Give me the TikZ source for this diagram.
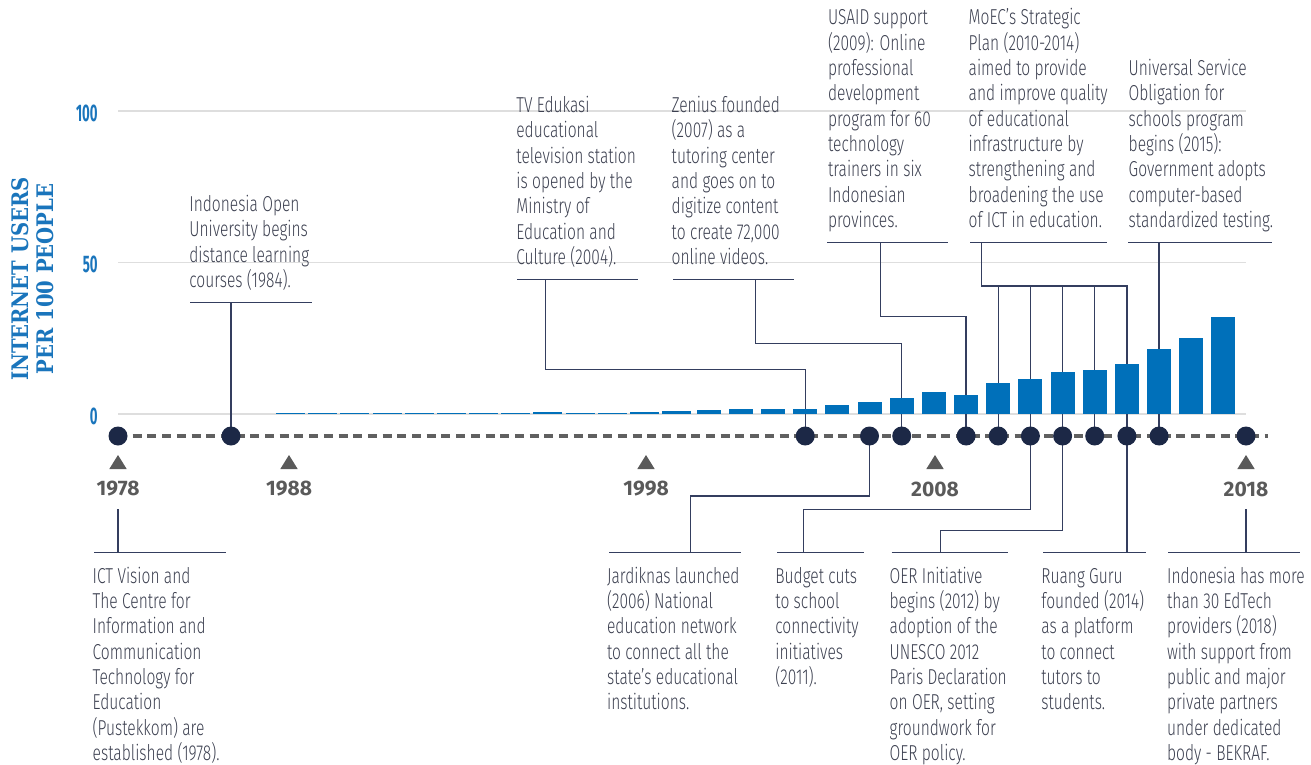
\documentclass[tikz,border=0pt]{standalone}
\usepackage{fontspec}
\setmainfont{Fira Sans Light}[FakeStretch=0.72]
\newfontfamily\yearfont{Fira Sans}
\newfontfamily\tickfont{Fira Sans}[FakeStretch=0.55]
\newfontfamily\titlefont{DejaVu Serif}[FakeStretch=0.86]

\definecolor{barblue}{RGB}{0,112,186}
\definecolor{tickblue}{RGB}{26,117,188}
\definecolor{dotnavy}{RGB}{28,40,70}
\definecolor{linknavy}{RGB}{52,62,95}
\definecolor{axisgray}{RGB}{96,96,96}
\definecolor{yeargray}{RGB}{90,90,90}
\definecolor{notetext}{RGB}{60,64,80}
\definecolor{gridgray}{RGB}{222,222,222}

\tikzset{
	% anchor sits on the baseline of the last line
	note/.style={anchor=base west, align=left, inner sep=0pt, text=notetext, font=\fontsize{10.8}{12.65}\selectfont},
	link/.style={draw=linknavy, line width=0.65pt},
	bar/.style={fill=barblue},
	gridline/.style={draw=gridgray, line width=0.6pt},
	yearlabel/.style={font=\yearfont\bfseries\fontsize{10.5}{12}\selectfont, text=yeargray},
	ticklabel/.style={anchor=east, inner sep=0pt, font=\tickfont\bfseries\fontsize{12}{12}\selectfont, text=tickblue},
}

\begin{document}
\begin{tikzpicture}[x=0.5pt, y=-0.5pt]
	\useasboundingbox (0,0) rectangle (1311,765);

	% scale: 0, 50, 100
	\foreach \v in {0,50,100} {
		\draw[gridline] (118,{414-\v*3.03}) -- (1246,{414-\v*3.03});
		\node[ticklabel] (tick\v) at (98,{416-\v*3.03}) {\v};
	}
	\node[rotate=90, align=center, text=tickblue, font=\titlefont\bfseries\fontsize{11.4}{12.5}\selectfont] (ytitle) at (33,279) {INTERNET USERS\\PER 100 PEOPLE};

	% events on the time line
	\foreach \n/\x in {1978/118, 1984/231, 2004/805.2, 2006/869.5, 2007/901.7, 2009/966.1, 2010/998.2, 2011/1030.4, 2012/1062.6, 2013/1094.7, 2014/1126.9, 2015/1159.1, 2018/1246}
		\coordinate (d\n) at (\x,436);

	% notes above
	\node[note] (openuni) at (189,287.3) {Indonesia Open\\University begins\\distance learning\\courses (1984).};
	\node[note] (tvedukasi) at (516,264.3) {TV Edukasi\\educational\\television station\\is opened by the\\Ministry of\\Education and\\Culture (2004).};
	\node[note] (zenius) at (671.3,264.3) {Zenius founded\\(2007) as a\\tutoring center\\and goes on to\\digitize content\\to create 72,000\\online videos.};
	\node[note] (usaid) at (827.7,227.3) {USAID support\\(2009): Online\\professional\\development\\program for 60\\technology\\trainers in six\\Indonesian\\provinces.};
	\node[note] (moec) at (968.3,227.3) {MoEC’s Strategic\\Plan (2010-2014)\\aimed to provide\\and improve quality\\of educational\\infrastructure by\\strengthening and\\broadening the use\\of ICT in education.};
	\node[note] (uso) at (1128.3,227.3) {Universal Service\\Obligation for\\schools program\\begins (2015):\\Government adopts\\computer-based\\standardized testing.};

	\draw[link] (190,302.3) -- (311.7,302.3);
	\draw[link] (517.3,279.3) -- (638.3,279.3);
	\draw[link] (673,279.3) -- (794,279.3);
	\draw[link] (827,242.3) -- (947.7,242.3);
	\draw[link] (970,242.3) -- (1107.3,242.3);
	\draw[link] (1128.3,242.3) -- (1271.7,242.3);

	\coordinate (openuni-tap) at (231,302.3);
	\coordinate (tvedukasi-tap) at (545.7,279.3);
	\coordinate (zenius-tap) at (755.7,279.3);
	\coordinate (usaid-tap) at (880.3,242.3);
	\coordinate (moec-tap) at (981.7,242.3);
	\coordinate (uso-tap) at (1159.1,242.3);

	\draw[link] (openuni-tap) -- (d1984);
	\draw[link] (tvedukasi-tap) -- ++(0,90) -| (d2004);
	\draw[link] (zenius-tap) -- ++(0,64) -| (d2007);
	\draw[link] (usaid-tap) -- ++(0,74.4) -| (d2009);
	\draw[link] (moec-tap) -- ++(0,43.7) coordinate (moec-bus) -| (d2014);
	\foreach \n in {2010,2011,2012,2013}
		\draw[link] (d\n) -- (d\n |- moec-bus);
	\draw[link] (uso-tap) -- (d2015);

	% notes below
	\node[note] (ictvision) at (92.3,760.4) {ICT Vision and\\The Centre for\\Information and\\Communication\\Technology for\\Education\\(Pustekkom) are\\established (1978).};
	\node[note] (jardiknas) at (606.7,709.8) {Jardiknas launched\\(2006) National\\education network\\to connect all the\\state’s educational\\institutions.};
	\node[note] (budget) at (775,684.5) {Budget cuts\\to school\\connectivity\\initiatives\\(2011).};
	\node[note] (oer) at (889.3,760.4) {OER Initiative\\begins (2012) by\\adoption of the\\UNESCO 2012\\Paris Declaration\\on OER, setting\\groundwork for\\OER policy.};
	\node[note] (ruangguru) at (1041,709.8) {Ruang Guru\\founded (2014)\\as a platform\\to connect\\tutors to\\students.};
	\node[note] (edtech) at (1166.7,760.4) {Indonesia has more\\than 30 EdTech\\providers (2018)\\with support from\\public and major\\private partners\\under dedicated\\body - BEKRAF.};

	\draw[link] (94,552.3) -- (226,552.3);
	\draw[link] (609,552.3) -- (740.7,552.3);
	\draw[link] (777.3,552.3) -- (863.7,552.3);
	\draw[link] (891.7,552.3) -- (1007.7,552.3);
	\draw[link] (1043.3,552.3) -- (1145.7,552.3);
	\draw[link] (1168.3,552.3) -- (1300,552.3);

	\coordinate (ictvision-tap) at (118,552.3);
	\coordinate (jardiknas-tap) at (690.7,552.3);
	\coordinate (budget-tap) at (803.3,552.3);
	\coordinate (oer-tap) at (940.3,552.3);
	\coordinate (ruangguru-tap) at (1126.9,552.3);
	\coordinate (edtech-tap) at (1246,552.3);

	\draw[link] (ictvision-tap) -- ++(0,-43);
	\draw[link] (d2006) -- ++(0,60) -| (jardiknas-tap);
	\draw[link] (d2011) -- ++(0,73.3) -| (budget-tap);
	\draw[link] (d2012) -- ++(0,94.7) -| (oer-tap);
	\draw[link] (d2014) -- (ruangguru-tap);
	\draw[link] (edtech-tap) -- ++(0,-43);

	% internet users, 1988-2017
	\foreach \yr/\v in {1988/0.35, 1989/0.35, 1990/0.35, 1991/0.35, 1992/0.35, 1993/0.35, 1994/0.35, 1995/0.35, 1996/0.6, 1997/0.3, 1998/0.3, 1999/0.6, 2000/1.0} {
		\pgfmathsetmacro\bx{290.5+(\yr-1988)*32.17}
		\fill[bar] ({\bx-14.5},414) rectangle ({\bx+14.5},{414-\v*3.03});
	}
	\foreach \yr/\v in {2001/1.3, 2002/1.5, 2003/1.65, 2004/1.8, 2005/2.9, 2006/4.0, 2007/5.15, 2008/7.1, 2009/6.25, 2010/10.3, 2011/11.6, 2012/13.8, 2013/14.4, 2014/16.5, 2015/21.5, 2016/25.0, 2017/32.0} {
		\pgfmathsetmacro\bx{290.5+(\yr-1988)*32.17}
		\fill[bar] ({\bx-12},414) rectangle ({\bx+12},{414-\v*3.03});
	}

	% time line
	\draw[axisgray, line width=1.6pt, dash pattern=on 4.5pt off 2.85pt] (d1978) -- (1268,436);
	\foreach \n in {1978,1984,2004,2006,2007,2009,2010,2011,2012,2013,2014,2015,2018}
		\fill[dotnavy] (d\n) circle (4.75pt);
	\foreach \yr/\x in {1978/118, 1988/289, 1998/646, 2008/935, 2018/1246} {
		\fill[yeargray] (\x,455) -- ++(8.7,14) -- ++(-17.4,0) -- cycle;
		\node[yearlabel] (y\yr) at (\x,489) {\yr};
	}
\end{tikzpicture}
\end{document}
